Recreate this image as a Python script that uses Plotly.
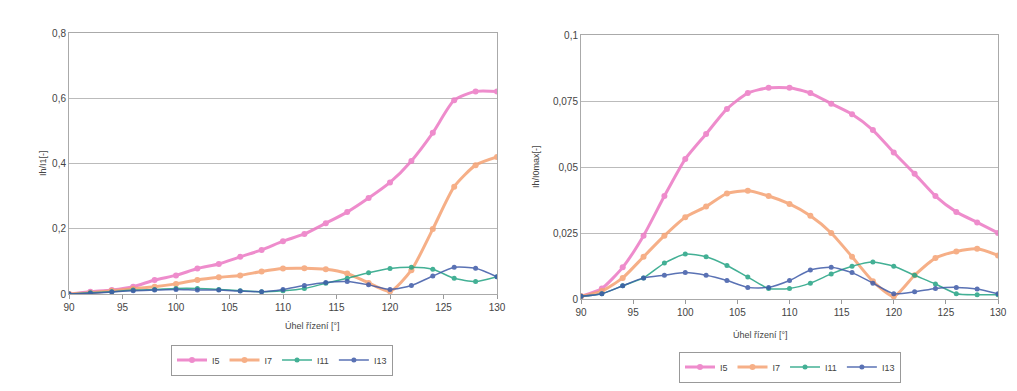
import plotly.graph_objects as go

angle = [90, 92, 94, 96, 98, 100, 102, 104, 106, 108, 110, 112, 114, 116, 118, 120, 122, 124, 126, 128, 130]

# Left chart: Ih/I1 [-]
L_I5 = [0.0, 0.007, 0.012, 0.022, 0.043, 0.057, 0.078, 0.092, 0.114, 0.135, 0.162, 0.184, 0.217, 0.251, 0.294, 0.342, 0.408, 0.494, 0.594, 0.621, 0.621]
L_I7 = [0.0, 0.004, 0.010, 0.016, 0.022, 0.031, 0.043, 0.051, 0.057, 0.069, 0.078, 0.079, 0.076, 0.063, 0.034, 0.008, 0.073, 0.199, 0.329, 0.395, 0.420]
L_I11 = [0.0, 0.004, 0.007, 0.012, 0.014, 0.017, 0.017, 0.014, 0.010, 0.007, 0.010, 0.017, 0.033, 0.048, 0.065, 0.078, 0.082, 0.076, 0.048, 0.038, 0.053]
L_I13 = [0.0, 0.002, 0.006, 0.010, 0.012, 0.014, 0.012, 0.012, 0.009, 0.007, 0.014, 0.026, 0.035, 0.038, 0.028, 0.014, 0.026, 0.055, 0.082, 0.079, 0.053]

# Right chart: Ih/I0max [-]
R_I5 = [0.001, 0.004, 0.012, 0.024, 0.039, 0.053, 0.0625, 0.072, 0.078, 0.080, 0.080, 0.078, 0.074, 0.070, 0.064, 0.0555, 0.0474, 0.039, 0.033, 0.029, 0.025]
R_I7 = [0.001, 0.003, 0.008, 0.016, 0.024, 0.031, 0.035, 0.040, 0.041, 0.039, 0.036, 0.0315, 0.025, 0.016, 0.0067, 0.001, 0.009, 0.0155, 0.018, 0.019, 0.0165]
R_I11 = [0.001, 0.002, 0.005, 0.008, 0.0136, 0.017, 0.016, 0.0127, 0.0083, 0.004, 0.004, 0.006, 0.0095, 0.0124, 0.014, 0.0124, 0.009, 0.0057, 0.002, 0.0016, 0.0016]
R_I13 = [0.001, 0.002, 0.005, 0.008, 0.009, 0.010, 0.009, 0.007, 0.0044, 0.0044, 0.007, 0.011, 0.012, 0.010, 0.006, 0.002, 0.0027, 0.004, 0.0044, 0.0038, 0.002]

names = ["I5", "I7", "I11", "I13"]
colors = ["#ec79c4", "#f5a273", "#23a383", "#3e5aa8"]
widths = [3, 3, 1.5, 1.5]
msizes = [6, 6, 5, 5]

left_tickvals = [0, 0.2, 0.4, 0.6, 0.8]
left_ticktext = ["0", "0,2", "0,4", "0,6", "0,8"]
right_tickvals = [0, 0.025, 0.05, 0.075, 0.1]
right_ticktext = ["0", "0,025", "0,05", "0,075", "0,1"]
x_ticks = [90, 95, 100, 105, 110, 115, 120, 125, 130]

# The page body adds an 8px margin, so the figure is sized to the remaining
# viewport and reference pixel positions are shifted by that offset.
OFF = 8
W, H = 1017 - OFF, 391 - OFF
def px(x):
    return (x - OFF) / W
def py(y):
    return (H - (y - OFF)) / H

fig = go.Figure()
left_series = [L_I5, L_I7, L_I11, L_I13]
right_series = [R_I5, R_I7, R_I11, R_I13]
for i in range(4):
    fig.add_trace(go.Scatter(
        x=angle, y=left_series[i], name=names[i], mode="lines+markers",
        line=dict(color=colors[i], width=widths[i], shape="spline", smoothing=0.6),
        marker=dict(color=colors[i], size=msizes[i], symbol="circle"),
        xaxis="x", yaxis="y", legend="legend", opacity=0.85))
for i in range(4):
    fig.add_trace(go.Scatter(
        x=angle, y=right_series[i], name=names[i], mode="lines+markers",
        line=dict(color=colors[i], width=widths[i], shape="spline", smoothing=0.6),
        marker=dict(color=colors[i], size=msizes[i], symbol="circle"),
        xaxis="x2", yaxis="y2", legend="legend2", opacity=0.85))

axis_font = dict(family="Liberation Sans, Arial, sans-serif", size=10, color="#444444")
common_x = dict(range=[90, 130], tickvals=x_ticks, ticks="outside", ticklen=4,
                tickcolor="#999999", showgrid=False, showline=True, linecolor="#aaaaaa",
                mirror=True, zeroline=False, tickfont=axis_font, fixedrange=True,
                automargin=False)
common_y = dict(ticks="", showgrid=True, gridcolor="#bbbbbb", gridwidth=1,
                showline=True, linecolor="#aaaaaa", mirror=True, zeroline=False,
                tickfont=axis_font, fixedrange=True, automargin=False)

legend_font = dict(family="Liberation Sans, Arial, sans-serif", size=9, color="#444444")

fig.update_layout(
    width=W, height=H,
    margin=dict(l=0, r=0, t=0, b=0, autoexpand=False),
    paper_bgcolor="white", plot_bgcolor="white",
    font=axis_font,
    xaxis=dict(domain=[px(69), px(497)], anchor="y", **common_x),
    yaxis=dict(domain=[py(294), py(33)], anchor="x", range=[0, 0.8],
               tickvals=left_tickvals, ticktext=left_ticktext, **common_y),
    xaxis2=dict(domain=[px(581), px(998)], anchor="y2", **common_x),
    yaxis2=dict(domain=[py(299), py(35)], anchor="x2", range=[0, 0.1],
                tickvals=right_tickvals, ticktext=right_ticktext, **common_y),
    legend=dict(orientation="h", x=px(282), y=py(360), xanchor="center", yanchor="middle",
                bordercolor="#999999", borderwidth=1, bgcolor="white",
                font=legend_font, tracegroupgap=0),
    legend2=dict(orientation="h", x=px(790), y=py(367), xanchor="center", yanchor="middle",
                 bordercolor="#999999", borderwidth=1, bgcolor="white",
                 font=legend_font, tracegroupgap=0),
    annotations=[
        dict(text="Ih/I1[-]", x=px(36), y=py(163), xref="paper", yref="paper",
             showarrow=False, textangle=-90, font=dict(size=9, color="#444444")),
        dict(text="Ih/I0max[-]", x=px(536), y=py(167), xref="paper", yref="paper",
             showarrow=False, textangle=-90, font=dict(size=9, color="#444444")),
        dict(text="Úhel řízení [°]", x=px(283), y=py(333), xref="paper", yref="paper",
             showarrow=False, font=dict(size=9, color="#444444")),
        dict(text="Úhel řízení [°]", x=px(790), y=py(342), xref="paper", yref="paper",
             showarrow=False, font=dict(size=9, color="#444444")),
    ],
)

fig.write_html("out.html")
